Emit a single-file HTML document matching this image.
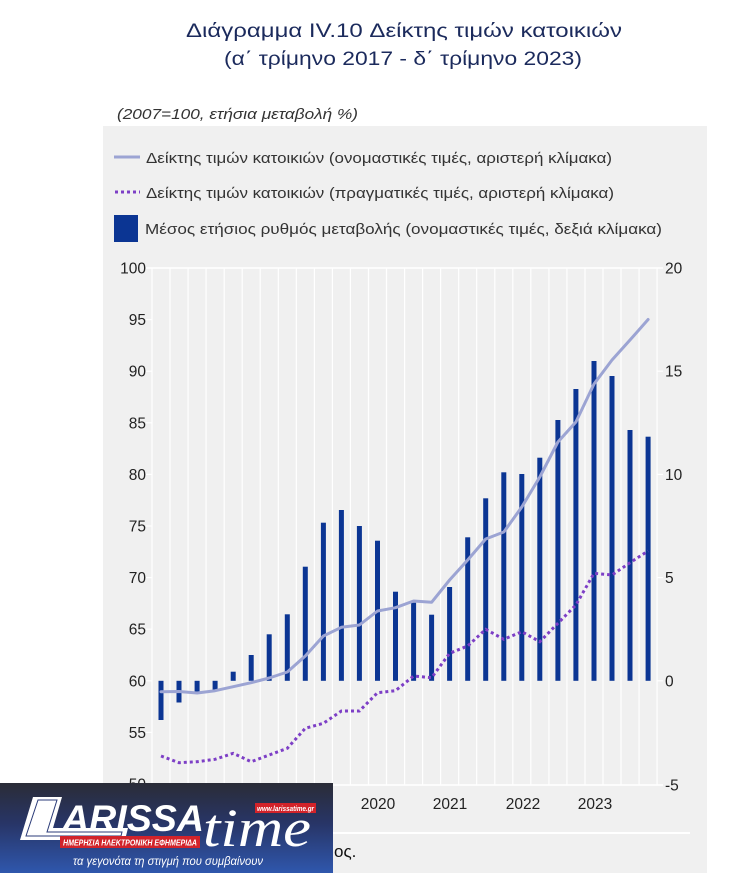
<!DOCTYPE html>
<html><head><meta charset="utf-8"><style>
html,body{margin:0;padding:0;background:#fff;}
svg{display:block;}
</style></head><body>
<svg width="742" height="873" viewBox="0 0 742 873" xmlns="http://www.w3.org/2000/svg" font-family="'Liberation Sans', 'Noto Sans CJK SC', sans-serif">
<rect x="0" y="0" width="742" height="873" fill="#fff"/>
<!-- Title -->
<text x="404" y="37" text-anchor="middle" font-size="19" fill="#1b2a5c" textLength="436" lengthAdjust="spacingAndGlyphs">Διάγραμμα IV.10 Δείκτης τιμών κατοικιών</text>
<text x="403" y="65" text-anchor="middle" font-size="19" fill="#1b2a5c" textLength="358" lengthAdjust="spacingAndGlyphs">(α΄ τρίμηνο 2017 - δ΄ τρίμηνο 2023)</text>
<text x="117" y="119" font-size="15" font-style="italic" fill="#333" textLength="241" lengthAdjust="spacingAndGlyphs">(2007=100, ετήσια μεταβολή %)</text>
<!-- Panel -->
<rect x="103" y="126" width="604" height="747" fill="#f0f0f0"/>
<!-- Legend -->
<line x1="114" y1="157" x2="140" y2="157" stroke="#9ca4d3" stroke-width="3"/>
<text x="146" y="163" font-size="15" fill="#333" textLength="466" lengthAdjust="spacingAndGlyphs">Δείκτης τιμών κατοικιών (ονομαστικές τιμές, αριστερή κλίμακα)</text>
<line x1="115" y1="192" x2="140" y2="192" stroke="#7d3fc6" stroke-width="3" stroke-dasharray="3 3"/>
<text x="146" y="198" font-size="15" fill="#333" textLength="468" lengthAdjust="spacingAndGlyphs">Δείκτης τιμών κατοικιών (πραγματικές τιμές, αριστερή κλίμακα)</text>
<rect x="114" y="215" width="24" height="27" fill="#0b3593"/>
<text x="145" y="234" font-size="15" fill="#333" textLength="517" lengthAdjust="spacingAndGlyphs">Μέσος ετήσιος ρυθμός μεταβολής (ονομαστικές τιμές, δεξιά κλίμακα)</text>
<!-- Gridlines -->
<g stroke="#fff" stroke-width="1.2">
<line x1="152.0" y1="268" x2="152.0" y2="785"/><line x1="170.0" y1="268" x2="170.0" y2="785"/><line x1="188.1" y1="268" x2="188.1" y2="785"/><line x1="206.1" y1="268" x2="206.1" y2="785"/><line x1="224.2" y1="268" x2="224.2" y2="785"/><line x1="242.2" y1="268" x2="242.2" y2="785"/><line x1="260.2" y1="268" x2="260.2" y2="785"/><line x1="278.3" y1="268" x2="278.3" y2="785"/><line x1="296.3" y1="268" x2="296.3" y2="785"/><line x1="314.4" y1="268" x2="314.4" y2="785"/><line x1="332.4" y1="268" x2="332.4" y2="785"/><line x1="350.4" y1="268" x2="350.4" y2="785"/><line x1="368.5" y1="268" x2="368.5" y2="785"/><line x1="386.5" y1="268" x2="386.5" y2="785"/><line x1="404.6" y1="268" x2="404.6" y2="785"/><line x1="422.6" y1="268" x2="422.6" y2="785"/><line x1="440.6" y1="268" x2="440.6" y2="785"/><line x1="458.7" y1="268" x2="458.7" y2="785"/><line x1="476.7" y1="268" x2="476.7" y2="785"/><line x1="494.8" y1="268" x2="494.8" y2="785"/><line x1="512.8" y1="268" x2="512.8" y2="785"/><line x1="530.8" y1="268" x2="530.8" y2="785"/><line x1="548.9" y1="268" x2="548.9" y2="785"/><line x1="566.9" y1="268" x2="566.9" y2="785"/><line x1="585.0" y1="268" x2="585.0" y2="785"/><line x1="603.0" y1="268" x2="603.0" y2="785"/><line x1="621.0" y1="268" x2="621.0" y2="785"/><line x1="639.1" y1="268" x2="639.1" y2="785"/><line x1="657.1" y1="268" x2="657.1" y2="785"/>
<line x1="146" y1="268" x2="663" y2="268" stroke-width="1.5"/>
<line x1="146" y1="785" x2="663" y2="785" stroke-width="1.5"/>
<line x1="146" y1="319.6" x2="152" y2="319.6"/><line x1="146" y1="371.2" x2="152" y2="371.2"/><line x1="146" y1="422.8" x2="152" y2="422.8"/><line x1="146" y1="474.4" x2="152" y2="474.4"/><line x1="146" y1="526" x2="152" y2="526"/><line x1="146" y1="577.6" x2="152" y2="577.6"/><line x1="146" y1="629.2" x2="152" y2="629.2"/><line x1="146" y1="680.8" x2="152" y2="680.8"/><line x1="146" y1="732.4" x2="152" y2="732.4"/>
<line x1="657" y1="371.2" x2="663" y2="371.2"/><line x1="657" y1="474.4" x2="663" y2="474.4"/><line x1="657" y1="577.6" x2="663" y2="577.6"/><line x1="657" y1="680.8" x2="663" y2="680.8"/>
</g>
<!-- Bars -->
<g fill="#0b3593">
<rect x="158.5" y="680.8" width="5" height="39.2"/>
<rect x="176.5" y="680.8" width="5" height="21.7"/>
<rect x="194.6" y="680.8" width="5" height="12.2"/>
<rect x="212.6" y="680.8" width="5" height="9.9"/>
<rect x="230.7" y="671.7" width="5" height="9.1"/>
<rect x="248.7" y="655" width="5" height="25.8"/>
<rect x="266.7" y="634.3" width="5" height="46.5"/>
<rect x="284.8" y="614.3" width="5" height="66.5"/>
<rect x="302.8" y="566.7" width="5" height="114.1"/>
<rect x="320.9" y="522.7" width="5" height="158.1"/>
<rect x="338.9" y="510" width="5" height="170.8"/>
<rect x="356.9" y="526" width="5" height="154.8"/>
<rect x="375.0" y="540.7" width="5" height="140.1"/>
<rect x="393.0" y="591.7" width="5" height="89.1"/>
<rect x="411.1" y="602.7" width="5" height="78.1"/>
<rect x="429.1" y="614.7" width="5" height="66.1"/>
<rect x="447.1" y="587" width="5" height="93.8"/>
<rect x="465.2" y="537.3" width="5" height="143.5"/>
<rect x="483.2" y="498.3" width="5" height="182.5"/>
<rect x="501.3" y="472.3" width="5" height="208.5"/>
<rect x="519.3" y="474" width="5" height="206.8"/>
<rect x="537.3" y="457.7" width="5" height="223.1"/>
<rect x="555.4" y="420" width="5" height="260.8"/>
<rect x="573.4" y="389" width="5" height="291.8"/>
<rect x="591.5" y="361" width="5" height="319.8"/>
<rect x="609.5" y="376" width="5" height="304.8"/>
<rect x="627.5" y="430" width="5" height="250.8"/>
<rect x="645.6" y="436.7" width="5" height="244.1"/>
</g>
<!-- Nominal line -->
<polyline fill="none" stroke="#9ca4d3" stroke-width="3" stroke-linejoin="round" stroke-linecap="round"
points="161.0,691.7 179.0,691.5 197.1,693 215.1,690.7 233.2,686.7 251.2,682.7 269.2,678 287.3,672 305.3,656 323.4,636 341.4,627.3 359.4,625 377.5,611 395.5,607.7 413.6,601 431.6,602.3 449.6,580 467.7,560 485.7,539 503.8,532 521.8,507 539.8,477 557.9,442 575.9,422 594.0,384 612.0,360 630.0,340 648.1,319.5"/>
<!-- Real line (dotted) -->
<polyline fill="none" stroke="#7d3fc6" stroke-width="3" stroke-dasharray="3 3"
points="161.0,756 179.0,762.7 197.1,761.7 215.1,759.3 233.2,753.3 251.2,761.7 269.2,755 287.3,748.3 305.3,728.3 323.4,723.3 341.4,711 359.4,711 377.5,692.7 395.5,690.7 413.6,676 431.6,677.7 449.6,653.3 467.7,646 485.7,629.3 503.8,639.3 521.8,631.7 539.8,641.7 557.9,623.3 575.9,605 594.0,573.3 612.0,575 630.0,562.7 648.1,551"/>
<!-- Left axis labels -->
<g font-size="15.5" fill="#222" text-anchor="end">
<text x="146" y="273.5">100</text>
<text x="146" y="325.1">95</text>
<text x="146" y="376.7">90</text>
<text x="146" y="428.3">85</text>
<text x="146" y="479.9">80</text>
<text x="146" y="531.5">75</text>
<text x="146" y="583.1">70</text>
<text x="146" y="634.7">65</text>
<text x="146" y="686.3">60</text>
<text x="146" y="737.9">55</text>
<text x="146" y="789.5">50</text>
</g>
<!-- Right axis labels -->
<g font-size="15.5" fill="#222" text-anchor="start">
<text x="665" y="273.5">20</text>
<text x="665" y="376.7">15</text>
<text x="665" y="479.9">10</text>
<text x="665" y="583.1">5</text>
<text x="665" y="686.3">0</text>
<text x="665" y="790.5">-5</text>
</g>
<!-- Year labels -->
<g font-size="15.5" fill="#222" text-anchor="middle">
<text x="161" y="809">2017</text>
<text x="233" y="809">2018</text>
<text x="305" y="809">2019</text>
<text x="378" y="809">2020</text>
<text x="450" y="809">2021</text>
<text x="523" y="809">2022</text>
<text x="595" y="809">2023</text>
</g>
<!-- Footnote -->
<line x1="115" y1="833" x2="690" y2="833" stroke="#fff" stroke-width="2"/>
<text x="332" y="857" font-size="16" fill="#111" text-anchor="end">Πηγή: Τράπεζα της Ελλάδ</text>
<text x="334" y="857" font-size="17" fill="#111">ος.</text>
<!-- Logo -->
<defs>
<linearGradient id="lg" x1="0" y1="0" x2="0" y2="1">
<stop offset="0" stop-color="#2a2c37"/>
<stop offset="0.45" stop-color="#283567"/>
<stop offset="1" stop-color="#2f57ad"/>
</linearGradient>
</defs>
<rect x="0" y="783" width="333" height="90" fill="url(#lg)"/>
<polygon points="33,797 62,797 53,828 128,828 125,840 20,840" fill="#fff"/>
<polygon points="38,800 57,800 47,832 122,832 121,836 26,836" fill="none" stroke="#2b3b78" stroke-width="1"/>
<text x="62" y="831" font-size="37" font-weight="bold" font-style="italic" fill="#fff" textLength="142" lengthAdjust="spacingAndGlyphs">ARISSA</text>
<text x="203" y="846" font-family="'Liberation Serif', serif" font-size="54" font-style="italic" fill="#fff" textLength="108" lengthAdjust="spacingAndGlyphs">time</text>
<rect x="255" y="803" width="61" height="10" fill="#d2232a"/>
<text x="285.5" y="811" font-size="7" font-weight="bold" font-style="italic" fill="#fff" text-anchor="middle" textLength="57" lengthAdjust="spacingAndGlyphs">www.larissatime.gr</text>
<rect x="60" y="836" width="140" height="12" fill="#d2232a"/>
<text x="130" y="845.5" font-size="8.5" font-weight="bold" font-style="italic" fill="#fff" text-anchor="middle" textLength="134" lengthAdjust="spacingAndGlyphs">ΗΜΕΡΗΣΙΑ ΗΛΕΚΤΡΟΝΙΚΗ ΕΦΗΜΕΡΙΔΑ</text>
<text x="168" y="865" font-size="12" font-style="italic" fill="#fff" text-anchor="middle" textLength="190" lengthAdjust="spacingAndGlyphs">τα γεγονότα τη στιγμή που συμβαίνουν</text>
</svg>
</body></html>
